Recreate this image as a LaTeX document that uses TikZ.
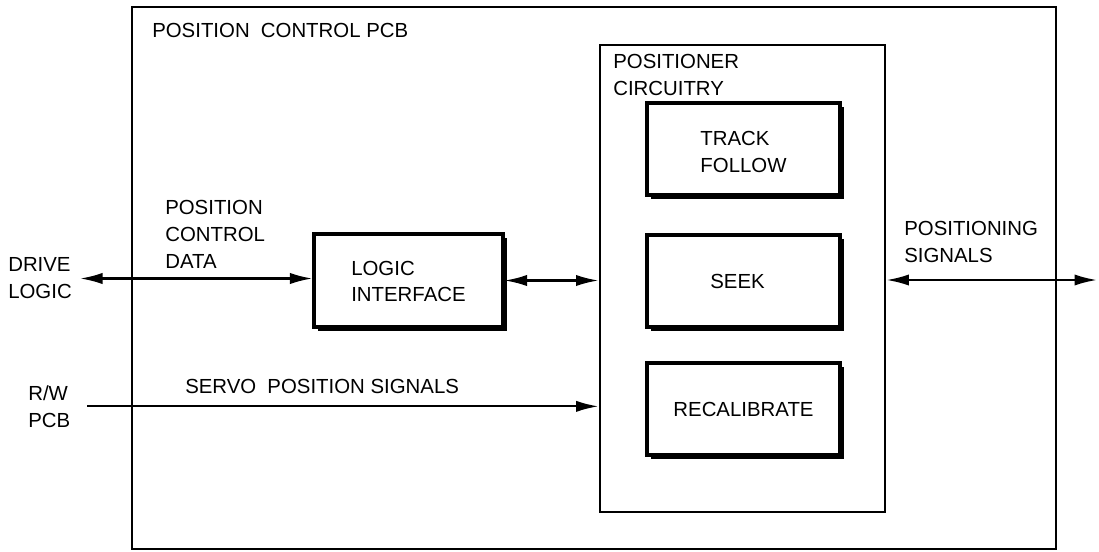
\documentclass[tikz,border=0pt]{standalone}
\usepackage{fontspec}
\setmainfont{Liberation Sans}
\usepackage{tikz}
\usetikzlibrary{arrows.meta,calc,positioning,fit,shadows}

\tikzset{
  board/.style={draw, line width=2pt, inner sep=0pt},
  blk/.style={draw, line width=2.2pt, fill=white, inner sep=0pt},
  shadowblk/.style={blk, drop shadow={shadow xshift=0.1cm, shadow yshift=-0.1cm, fill=black, opacity=1}},
  lbl/.style={inner sep=0pt, align=left, anchor=base west},
  intext/.style={inner sep=0pt, align=left},
  sig/.style={line width=1.6pt, -{Latex[length=16pt,width=8pt]}},
  bisig/.style={line width=1.6pt, {Latex[length=16pt,width=8pt]}-{Latex[length=16pt,width=8pt]}},
}

\begin{document}
\begin{tikzpicture}[x=0.025cm, y=-0.025cm, font=\fontsize{14.5}{19}\selectfont]
            \useasboundingbox (0,0) rectangle (1099,552);
            % boards and blocks
            \node[board, fit={(132,7) (1056,549)}] (pcb) {};
            \node[board, fit={(600,45) (885,512)}] (positioner) {};
            \node[shadowblk, fit={(314,234) (503,327)}] (logic) {};
            \node[shadowblk, fit={(647,103) (840,195)}] (track) {};
            \node[shadowblk, fit={(647,235) (840,327)}] (seek) {};
            \node[shadowblk, fit={(647,363) (840,455)}] (recal) {};
            \node[intext] (logictxt) at ($(logic.center)+(0,1)$) {LOGIC\\INTERFACE};
            \node[intext] (tracktxt) at ($(track.center)+(0,3)$) {TRACK\\FOLLOW};
            \node[intext] (seektxt) at ($(seek.center)+(-6,0)$) {SEEK};
            \node[intext] (recaltxt) at (recal.center) {RECALIBRATE};
            % labels (base = last line)
            \node[lbl] (pcblbl) at (152,37) {POSITION\hspace{0.55em}CONTROL PCB};
            \node[lbl] (poslbl) at (613,95) {POSITIONER\\CIRCUITRY};
            \node[lbl] (datalbl) at (165,268) {POSITION\\CONTROL\\DATA};
            \node[lbl] (servolbl) at (185,393) {SERVO\hspace{0.55em}POSITION SIGNALS};
            \node[lbl] (possiglbl) at (904,262) {POSITIONING\\SIGNALS};
            \node[lbl] (drive) at (8,298) {DRIVE\\LOGIC};
            \node[lbl] (rwpcb) at (28,427) {R/W\\PCB};
            \coordinate (ext) at (1097,280);
            % connectors
            \draw[bisig] ($(drive.east |- logic.west)+(8,-2)$) -- ($(logic.west)+(0,-2)$);
            \draw[bisig] (logic.east) -- (logic.east -| positioner.west);
            \draw[sig] ($(rwpcb.east)+(17,0)$) -- (rwpcb.east -| positioner.west);
            \draw[bisig] (ext -| positioner.east) -- (ext);
          \end{tikzpicture}
\end{document}
